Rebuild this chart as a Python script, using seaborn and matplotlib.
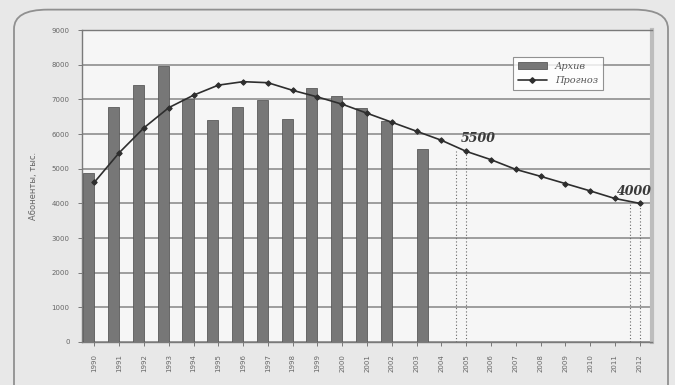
import numpy as np
import pandas as pd
import matplotlib
matplotlib.use("Agg")
import matplotlib.pyplot as plt
from matplotlib.patches import Patch, FancyBboxPatch
from matplotlib.lines import Line2D
import seaborn as sns

years = [str(y) for y in range(1990, 2013)]
archive = [4870, 6780, 7410, 7950, 7000, 6400, 6780, 6970, 6420, 7330, 7100, 6760, 6380]
estimate_year = "2003"
estimate_value = 5560
forecast = [4610, 5460, 6180, 6760, 7120, 7410, 7510, 7480, 7260, 7070, 6860, 6600,
            6340, 6080, 5820, 5500, 5260, 4980, 4780, 4570, 4360, 4140, 4000]
marked_years = ["2005", "2012"]
y_ticks = list(range(0, 9001, 1000))

sns.set_theme(style="white")
plt.rcParams["font.family"] = ["DejaVu Sans"]

fig = plt.figure(figsize=(6.75, 3.85), dpi=100, facecolor="#e8e8e8")
ax = fig.add_axes([0.1215, 0.1117, 0.8445, 0.8103])
ax.set_facecolor("#f6f6f6")

# rounded chart frame
frame = FancyBboxPatch((14 / 675, -0.2), 654 / 675, 1.175, transform=fig.transFigure,
                       boxstyle="round,pad=0,rounding_size=0.05", fc="none",
                       ec="#909090", lw=1.3, zorder=0)
fig.patches.append(frame)

bars = pd.DataFrame({
    "year": years,
    "main": archive + [np.nan] * (len(years) - len(archive)),
    "extra": [estimate_value if y == estimate_year else np.nan for y in years],
}).melt(id_vars="year", var_name="series", value_name="value")

sns.barplot(data=bars, x="year", y="value", hue="series", order=years,
            hue_order=["main", "extra"], palette=["#777777", "#777777"],
            dodge=True, width=0.9, edgecolor="#5a5a5a", linewidth=0.6,
            legend=False, ax=ax, zorder=3)

pos = np.arange(len(years))
sns.lineplot(x=pos, y=forecast, ax=ax, color="#2e2e2e", lw=1.2, marker="D",
             markersize=2.8, markeredgecolor="#2e2e2e", zorder=5)

# drop lines for the marked forecast years
for yr in marked_years:
    i = years.index(yr)
    v = forecast[i]
    for dx in (-0.4, 0.0):
        ax.plot([i + dx, i + dx], [0, v], ls=(0, (1, 2)), color="#666666", lw=0.8, zorder=4)

i1 = years.index(marked_years[0])
ax.text(i1 + 0.5, forecast[i1] + 170, f"{forecast[i1]}", fontsize=9, fontweight="bold",
        style="italic", family="DejaVu Serif", color="#3a3a3a", ha="center", va="bottom", zorder=6)
i2 = years.index(marked_years[1])
ax.text(i2 - 0.2, forecast[i2] + 150, f"{forecast[i2]}", fontsize=9, fontweight="bold",
        style="italic", family="DejaVu Serif", color="#3a3a3a", ha="center", va="bottom", zorder=6)

ax.set_xlim(-0.5, len(years) - 0.5)
ax.set_ylim(0, 9000)
ax.set_yticks(y_ticks)
ax.set_yticklabels([str(t) for t in y_ticks], fontsize=5, color="#666666")
ax.set_xticks(pos)
ax.set_xticklabels(years, rotation=90, fontsize=5, color="#666666")
ax.tick_params(axis="both", length=3, width=0.6, color="#666666", pad=6, left=True, bottom=True)
ax.grid(axis="y", color="#8e8e8e", lw=1.2, zorder=0)
ax.set_axisbelow(True)
ax.set_xlabel("")
ax.set_ylabel("Абоненты, тыс.", fontsize=6, color="#666666", labelpad=10)
for side in ("top", "left", "bottom"):
    ax.spines[side].set_color("#7a7a7a")
    ax.spines[side].set_linewidth(1.0)
ax.spines["right"].set_color("#bdbdbd")
ax.spines["right"].set_linewidth(3)

handles = [Patch(facecolor="#777777", edgecolor="#5a5a5a", lw=0.6),
           Line2D([0], [0], color="#2e2e2e", lw=1.2, marker="D", markersize=2.8)]
leg = ax.legend(handles, ["Архив", "Прогноз"], loc="upper left",
                bbox_to_anchor=(426 / 570, 0.93), frameon=True, fancybox=False,
                prop={"size": 7, "style": "italic", "family": "DejaVu Serif"},
                handlelength=3.0, borderpad=0.5, labelspacing=0.6)
leg.get_frame().set_edgecolor("#777777")
leg.get_frame().set_facecolor("#ffffff")
leg.get_frame().set_linewidth(0.8)
for t in leg.get_texts():
    t.set_color("#555555")

fig.savefig("out.png", dpi=100, facecolor=fig.get_facecolor())
